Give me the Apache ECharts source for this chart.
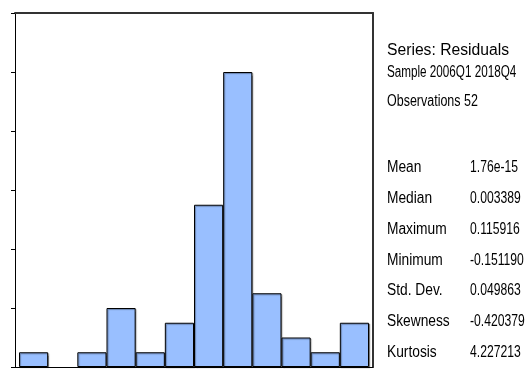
<!DOCTYPE html>
<html>
<head>
<meta charset="utf-8">
<script src="https://cdn.jsdelivr.net/npm/echarts@6/dist/echarts.min.js"></script>
<style>
html,body{margin:0;padding:0;background:#fff;}
#chart{width:526px;height:369px;}
</style>
</head>
<body>
<div id="chart"></div>
<script>
// Histogram bins (bin midpoints) and counts
const binCenters = ['-0.1625','-0.1375','-0.1125','-0.0875','-0.0625','-0.0375','-0.0125','0.0125','0.0375','0.0625','0.0875','0.1125'];
const counts = [1, 0, 1, 4, 1, 3, 11, 20, 5, 2, 1, 3];
const yTicks = { min: 0, max: 24, interval: 4 };

// Statistics panel
const headerLines = ['Series: Residuals', 'Sample 2006Q1 2018Q4', 'Observations 52'];
const statLabels = ['Mean', 'Median', 'Maximum', 'Minimum', 'Std. Dev.', 'Skewness', 'Kurtosis'];
const statValues = ['1.76e-15', '0.003389', '0.115916', '-0.151190', '0.049863', '-0.420379', '4.227213'];

const chart = echarts.init(document.getElementById('chart'), null, {renderer: 'canvas'});

const fam = '"Liberation Sans", Arial, sans-serif';
const graphics = [];
function txt(s, x, y, size, sx) {
  graphics.push({type:'text', x:x, y:y, scaleX:sx,
    style:{text:s, font:size + 'px ' + fam, fill:'#000', textVerticalAlign:'middle', verticalAlign:'middle'}});
}
txt(headerLines[0], 387, 51, 16, 0.98);
txt(headerLines[1], 387, 73, 16, 0.73);
txt(headerLines[2], 387, 102, 16, 0.78);
statLabels.forEach((lab, i) => {
  const y = 168 + i * 30.7;
  txt(lab, 387, y, 16, 0.86);
  txt(statValues[i], 470, y, 16, 0.76);
});

const option = {
  animation: false,
  backgroundColor: '#fff',
  grid: [
    {left: 15, right: 153, top: 13, bottom: 2},
    {left: 19, right: 157, top: 13, bottom: 2}
  ],
  xAxis: [
    {gridIndex:0, type:'value', position:'bottom', min:0, max:1,
     axisLine:{show:true, onZero:false, lineStyle:{color:'#000', width:1}}, axisTick:{show:false}, axisLabel:{show:false}, splitLine:{show:false}},
    {gridIndex:0, type:'value', position:'top', min:0, max:1,
     axisLine:{show:true, onZero:false, lineStyle:{color:'#333', width:2}}, axisTick:{show:false}, axisLabel:{show:false}, splitLine:{show:false}},
    {gridIndex:1, type:'category', data: binCenters, boundaryGap:true,
     axisLine:{show:false}, axisTick:{show:false}, axisLabel:{show:false}, splitLine:{show:false}}
  ],
  yAxis: [
    {gridIndex:0, type:'value', position:'left', min:yTicks.min, max:yTicks.max, interval:yTicks.interval,
     axisLine:{show:true, onZero:false, lineStyle:{color:'#000', width:1}},
     axisTick:{show:true, inside:false, length:4, lineStyle:{color:'#000', width:1}},
     axisLabel:{show:false}, splitLine:{show:false}},
    {gridIndex:0, type:'value', position:'right', min:yTicks.min, max:yTicks.max, interval:yTicks.interval,
     axisLine:{show:true, onZero:false, lineStyle:{color:'#333', width:2}}, axisTick:{show:false}, axisLabel:{show:false}, splitLine:{show:false}},
    {gridIndex:1, type:'value', min:yTicks.min, max:yTicks.max, interval:yTicks.interval,
     axisLine:{show:false}, axisTick:{show:false}, axisLabel:{show:false}, splitLine:{show:false}}
  ],
  series: [
    {type:'bar', xAxisIndex:2, yAxisIndex:2, data: counts.map(v => v === 0 ? null : v), barCategoryGap:'0%', barGap:'0%',
     itemStyle:{color:'#99bfff', borderColor:'#000', borderWidth:1,
       shadowColor:'rgba(0,0,0,0.35)', shadowOffsetX:1, shadowOffsetY:1, shadowBlur:1}}
  ],
  graphic: graphics
};
chart.setOption(option);
</script>
</body>
</html>
